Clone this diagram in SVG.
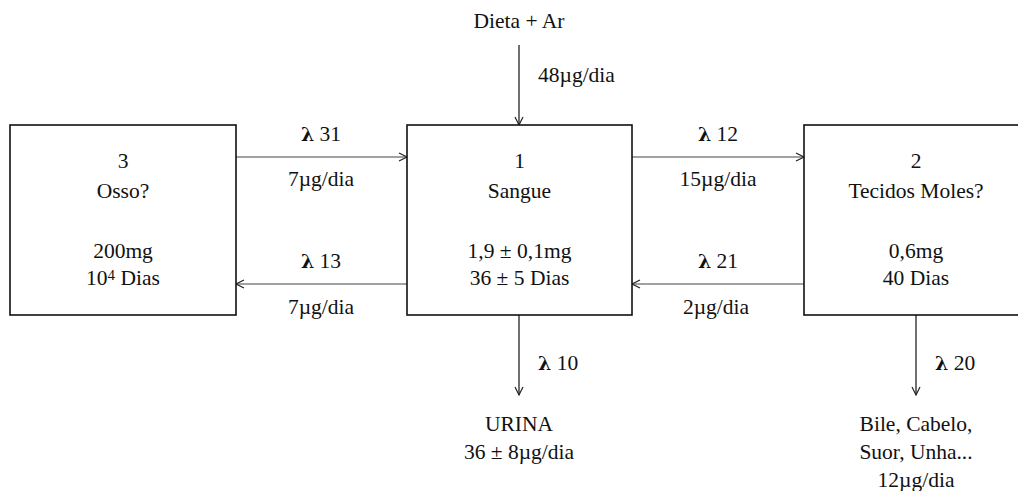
<svg xmlns="http://www.w3.org/2000/svg" width="1018" height="491" viewBox="0 0 1018 491">
  <style>
    text { font-family: "Liberation Serif", "Times New Roman", serif; font-size: 21.5px; fill: #111; text-anchor: middle; }
    .start { text-anchor: start; }
    .lam { font-family: "DejaVu Serif", serif; font-size: 19px; font-weight: bold; }
    .box { fill: #fff; stroke: #111; stroke-width: 1.6; }
    .conn { fill: none; stroke: #444; stroke-width: 1.2; }
    .vconn { fill: none; stroke: #111; stroke-width: 1.2; }
  </style>
  <defs>
    <marker id="arr" markerUnits="userSpaceOnUse" markerWidth="12" markerHeight="12" refX="9" refY="5" orient="auto">
      <path d="M1,1 L9,5 L1,9" fill="none" stroke="#222" stroke-width="1.2"/>
    </marker>
  </defs>
  <rect width="1018" height="491" fill="#fff"/>

  <g id="connectors">
    <line class="vconn" x1="519" y1="45" x2="519" y2="125" marker-end="url(#arr)"/>
    <line class="conn" x1="236" y1="157" x2="407" y2="157" marker-end="url(#arr)"/>
    <line class="conn" x1="407" y1="284" x2="236" y2="284" marker-end="url(#arr)"/>
    <line class="conn" x1="632" y1="157" x2="804" y2="157" marker-end="url(#arr)"/>
    <line class="conn" x1="804" y1="284" x2="632" y2="284" marker-end="url(#arr)"/>
    <line class="vconn" x1="519" y1="315" x2="519" y2="395" marker-end="url(#arr)"/>
    <line class="vconn" x1="916" y1="315" x2="916" y2="395" marker-end="url(#arr)"/>
  </g>

  <g id="labels">
    <text x="519" y="28" font-size="22.5">Dieta + Ar</text>
    <text class="start" x="538" y="82">48µg/dia</text>
    <text x="321" y="141"><tspan class="lam">λ</tspan> 31</text>
    <text x="321" y="186">7µg/dia</text>
    <text x="321" y="268"><tspan class="lam">λ</tspan> 13</text>
    <text x="321" y="314">7µg/dia</text>
    <text x="718" y="141"><tspan class="lam">λ</tspan> 12</text>
    <text x="718" y="186">15µg/dia</text>
    <text x="718" y="268"><tspan class="lam">λ</tspan> 21</text>
    <text x="716" y="314">2µg/dia</text>
    <text class="start" x="538" y="370"><tspan class="lam">λ</tspan> 10</text>
    <text class="start" x="935" y="370"><tspan class="lam">λ</tspan> 20</text>
  </g>

  <g id="node3">
    <rect class="box" x="10" y="125" width="226" height="190"/>
    <text x="123" y="168">3</text>
    <text x="123" y="198">Osso?</text>
    <text x="123" y="258">200mg</text>
    <text x="123" y="285">10<tspan font-size="15" dy="-5">4</tspan><tspan dy="5"> Dias</tspan></text>
  </g>

  <g id="node1">
    <rect class="box" x="407" y="125" width="225" height="190"/>
    <text x="519.5" y="168">1</text>
    <text x="519.5" y="198">Sangue</text>
    <text x="519.5" y="258">1,9 ± 0,1mg</text>
    <text x="519.5" y="285">36 ± 5 Dias</text>
  </g>

  <g id="node2">
    <rect class="box" x="804" y="125" width="225" height="190"/>
    <text x="916" y="168">2</text>
    <text x="916" y="198">Tecidos Moles?</text>
    <text x="916" y="258">0,6mg</text>
    <text x="916" y="285">40 Dias</text>
  </g>

  <g id="urina">
    <text x="519" y="431">URINA</text>
    <text x="519" y="459">36 ± 8µg/dia</text>
  </g>

  <g id="excretion">
    <text x="916" y="431">Bile, Cabelo,</text>
    <text x="916" y="459">Suor, Unha...</text>
    <text x="916" y="487">12µg/dia</text>
  </g>
</svg>
